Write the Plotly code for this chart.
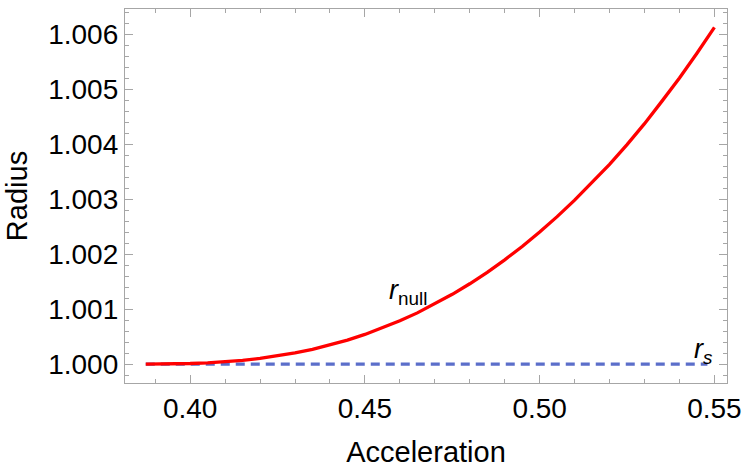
import plotly.graph_objects as go

# Data
accel = [0.3873, 0.395, 0.400, 0.405, 0.410, 0.415, 0.420, 0.425, 0.430, 0.435,
         0.440, 0.445, 0.450, 0.455, 0.460, 0.465, 0.470, 0.475, 0.480, 0.485,
         0.490, 0.495, 0.500, 0.505, 0.510, 0.515, 0.520, 0.525, 0.530, 0.535,
         0.540, 0.545, 0.550]
r_null = [1.0000000, 1.0000026, 1.0000092, 1.0000214, 1.0000405, 1.0000672, 1.0001026,
          1.0001470, 1.0002021, 1.0002683, 1.0003458, 1.0004356, 1.0005383, 1.0006545,
          1.0007860, 1.0009300, 1.0010910, 1.0012680, 1.0014590, 1.0016680, 1.0018950,
          1.0021380, 1.0024000, 1.0026800, 1.0029800, 1.0033000, 1.0036300, 1.0039900,
          1.0043700, 1.0047800, 1.0052000, 1.0056500, 1.0061200]
rs_x = [0.3873, 0.5480]
rs_y = [1.0, 1.0]

x_ticks = [0.40, 0.45, 0.50, 0.55]
x_tick_text = ["0.40", "0.45", "0.50", "0.55"]
y_ticks = [1.000, 1.001, 1.002, 1.003, 1.004, 1.005, 1.006]
y_tick_text = ["1.000", "1.001", "1.002", "1.003", "1.004", "1.005", "1.006"]

FONT = "Liberation Sans, Arial, sans-serif"
FRAME = "#a6a6a6"

fig = go.Figure()
fig.add_trace(go.Scatter(x=rs_x, y=rs_y, mode="lines",
                         line=dict(color="#5B6ECA", width=3.3, dash="9px,6px"),
                         showlegend=False, hoverinfo="skip"))
fig.add_trace(go.Scatter(x=accel, y=r_null, mode="lines",
                         line=dict(color="#FF0000", width=3.3),
                         showlegend=False, hoverinfo="skip"))

fig.add_annotation(x=0.4622, y=1.00131, text="<i>r</i><sub>null</sub>", showarrow=False,
                   font=dict(family=FONT, size=27, color="black"))
fig.add_annotation(x=0.5468, y=1.00023, text="<i>r<sub>s</sub></i>", showarrow=False,
                   font=dict(family=FONT, size=27, color="black"))

axis_common = dict(showline=True, linecolor=FRAME, linewidth=1.3, mirror="allticks",
                   ticks="inside", ticklen=8, tickcolor=FRAME, tickwidth=1,
                   showgrid=False, zeroline=False,
                   tickfont=dict(family=FONT, size=28, color="black"))

fig.update_xaxes(range=[0.38136, 0.5536], tickvals=x_ticks, ticktext=x_tick_text,
                 minor=dict(dtick=0.01, tick0=0.40, ticklen=4, ticks="inside",
                            tickcolor=FRAME, showgrid=False),
                 title=dict(text="Acceleration", font=dict(family=FONT, size=29, color="black"),
                            standoff=18),
                 **axis_common)
fig.update_yaxes(range=[0.999655, 1.006455], tickvals=y_ticks, ticktext=y_tick_text,
                 minor=dict(dtick=0.0002, tick0=1.0, ticklen=4, ticks="inside",
                            tickcolor=FRAME, showgrid=False),
                 title=dict(text="Radius", font=dict(family=FONT, size=29, color="black"),
                            standoff=12),
                 **axis_common)

fig.update_layout(width=750, height=471, margin=dict(l=125, r=18, t=8, b=88),
                  plot_bgcolor="white", paper_bgcolor="white")

fig.write_html("out.html")
